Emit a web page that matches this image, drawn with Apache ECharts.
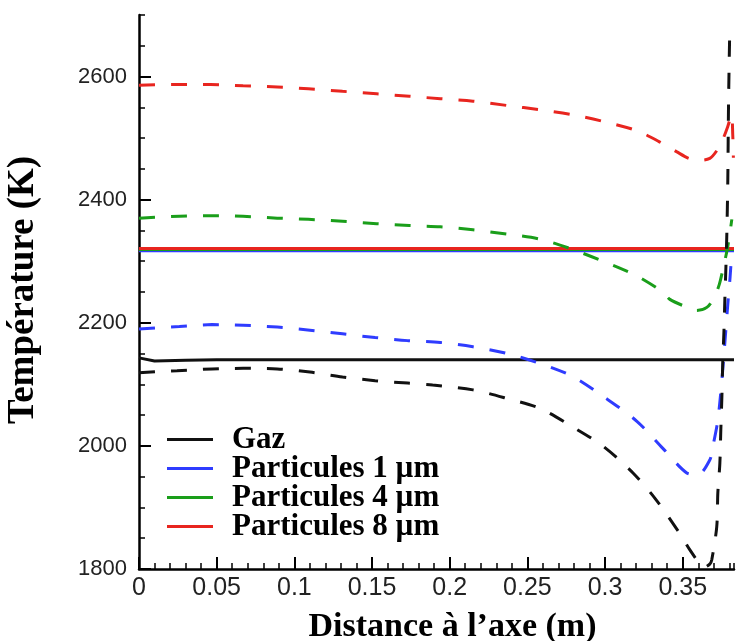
<!DOCTYPE html>
<html>
<head>
<meta charset="utf-8">
<script src="https://cdn.jsdelivr.net/npm/echarts@6.0.0/dist/echarts.min.js"></script>
<style>
html,body{margin:0;padding:0;background:#fff;}
#c{width:742px;height:641px;}
</style>
</head>
<body>
<div id="c"></div>
<script>
// ---- Data (Distance à l'axe en m, Température en K) ----
const legendNames = ['Gaz', 'Particules 1 µm', 'Particules 4 µm', 'Particules 8 µm'];
const xTickValues = [0, 0.05, 0.1, 0.15, 0.2, 0.25, 0.3, 0.35];
const yTickValues = [1800, 2000, 2200, 2400, 2600];

// solid lines
const gazSolidX = [0, 0.01, 0.03, 0.05, 0.1, 0.15, 0.2, 0.25, 0.3, 0.35, 0.383];
const gazSolidT = [2143, 2138, 2139, 2140, 2140, 2140, 2140, 2140, 2140, 2140, 2140];
const p1SolidX = [0, 0.1, 0.2, 0.3, 0.383];
const p1SolidT = [2317, 2317, 2317, 2317, 2317];
const p4SolidX = [0, 0.1, 0.2, 0.3, 0.383];
const p4SolidT = [2319, 2319, 2319, 2319, 2319];
const p8SolidX = [0, 0.1, 0.2, 0.3, 0.383];
const p8SolidT = [2320.5, 2320.5, 2320.5, 2320.5, 2320.5];

// dashed lines
const gazDashX = [0, 0.0245, 0.047, 0.067, 0.089, 0.110, 0.131, 0.152, 0.173, 0.189, 0.215, 0.237, 0.258, 0.279, 0.299, 0.318, 0.333, 0.348, 0.3546, 0.36, 0.364, 0.3674, 0.3687, 0.3719, 0.3726, 0.3739, 0.3745, 0.3752, 0.3758, 0.3765, 0.3771, 0.3778, 0.3784, 0.379, 0.3795, 0.3803];
const gazDashT = [2119, 2122, 2125, 2126, 2125, 2120, 2112, 2106, 2102, 2099, 2091, 2077, 2061, 2031, 1999, 1956, 1912, 1858, 1831, 1812, 1803, 1808, 1815, 1869, 1924, 1972, 2025, 2080, 2140, 2184, 2237, 2291, 2346, 2430, 2560, 2680];

const p1DashX = [0, 0.026, 0.047, 0.067, 0.089, 0.110, 0.131, 0.152, 0.173, 0.194, 0.215, 0.237, 0.258, 0.279, 0.299, 0.3205, 0.3372, 0.3526, 0.3597, 0.3674, 0.3694, 0.3726, 0.3752, 0.3771, 0.379, 0.3805, 0.3816];
const p1DashT = [2190, 2194, 2197, 2196, 2193, 2188, 2182, 2176, 2171, 2168, 2161, 2150, 2134, 2113, 2080, 2040, 1996, 1956, 1953, 1977, 1999, 2042, 2107, 2167, 2230, 2275, 2316];

const p4DashX = [0, 0.026, 0.047, 0.067, 0.089, 0.109, 0.131, 0.153, 0.174, 0.194, 0.215, 0.237, 0.258, 0.277, 0.2986, 0.3205, 0.337, 0.3417, 0.352, 0.359, 0.3655, 0.370, 0.3735, 0.3758, 0.379, 0.3816];
const p4DashT = [2370, 2373, 2374, 2373, 2370, 2368, 2365, 2361, 2358, 2356, 2351, 2344, 2336, 2321, 2300, 2276, 2250, 2238, 2226, 2220, 2225, 2240, 2262, 2286, 2324, 2368];

const p8DashX = [0, 0.026, 0.046, 0.067, 0.089, 0.109, 0.131, 0.153, 0.174, 0.194, 0.215, 0.237, 0.258, 0.279, 0.299, 0.3205, 0.335, 0.346, 0.354, 0.361, 0.3674, 0.372, 0.3758, 0.379, 0.3814, 0.3822, 0.3826];
const p8DashT = [2586, 2587, 2587, 2585, 2583, 2580, 2576, 2572, 2568, 2564, 2560, 2553, 2546, 2538, 2527, 2512, 2494, 2478, 2467, 2464, 2467, 2480, 2498, 2519, 2538, 2505, 2468];

const colors = { gaz: '#111111', p1: '#2f3cff', p4: '#1a9e1a', p8: '#e8251f' };

function pts(xs, ys) { return xs.map((x, i) => [x, ys[i]]); }

const chart = echarts.init(document.getElementById('c'), null, { renderer: 'canvas' });

const sansFont = '"Liberation Sans", Arial, Helvetica, sans-serif';
const serifFont = '"Liberation Serif", "Times New Roman", serif';

function solid(name, xs, ys, color) {
  return { name: name, type: 'line', data: pts(xs, ys), showSymbol: false, symbol: 'none',
    color: color, lineStyle: { color: color, width: 3, type: 'solid' }, smooth: false, z: 2 };
}
function dashed(name, xs, ys, color) {
  return { name: name, type: 'line', data: pts(xs, ys), showSymbol: false, symbol: 'none',
    color: color, lineStyle: { color: color, width: 3, type: [16, 16] }, smooth: 0.3, z: 3 };
}

const option = {
  animation: false,
  backgroundColor: '#ffffff',
  grid: { left: 139, right: 8, top: 15, bottom: 72, containLabel: false, outerBoundsMode: 'none' },
  legend: {
    data: legendNames,
    orient: 'vertical',
    left: 162,
    top: 419,
    icon: 'rect',
    itemWidth: 46,
    itemHeight: 3,
    itemGap: -2,
    selectedMode: false,
    textStyle: { fontFamily: serifFont, fontWeight: 'bold', fontSize: 31, color: '#000', lineHeight: 28, padding: [0, 0, 0, 14] }
  },
  xAxis: [{
    type: 'value', min: 0, max: 0.383, interval: 0.05,
    position: 'bottom',
    name: 'Distance à l\u2019axe (m)', nameLocation: 'middle', nameGap: 41,
    nameTextStyle: { fontFamily: serifFont, fontWeight: 'bold', fontSize: 34, color: '#000', padding: [0, 0, 0, 32] },
    axisLine: { show: true, onZero: false, lineStyle: { color: '#000', width: 2.5 } },
    axisTick: { show: true, inside: true, length: 12, lineStyle: { color: '#000', width: 2 }, customValues: xTickValues },
    axisLabel: { show: true, margin: 7, fontFamily: sansFont, fontSize: 25, color: '#222', customValues: xTickValues,
      formatter: v => String(+v.toFixed(2)) },
    splitLine: { show: false }
  }, {
    type: 'value', min: 0, max: 0.383, interval: 0.01,
    position: 'bottom',
    axisLine: { show: false },
    axisTick: { show: true, inside: true, length: 6, lineStyle: { color: '#000', width: 1.5 } },
    axisLabel: { show: false },
    splitLine: { show: false }
  }],
  yAxis: [{
    type: 'value', min: 1800, max: 2700, interval: 100,
    position: 'left',
    name: 'Température (K)', nameLocation: 'middle', nameGap: 97,
    nameTextStyle: { fontFamily: serifFont, fontWeight: 'bold', fontSize: 37, color: '#000', padding: [0, 0, 0, 4] },
    axisLine: { show: true, onZero: false, lineStyle: { color: '#000', width: 2.5 } },
    axisTick: { show: true, inside: true, length: 12, lineStyle: { color: '#000', width: 2 }, customValues: yTickValues },
    axisLabel: { show: true, margin: 12, fontFamily: sansFont, fontSize: 22, color: '#222', customValues: yTickValues,
      formatter: v => String(v) },
    splitLine: { show: false }
  }, {
    type: 'value', min: 1800, max: 2700, interval: 50,
    position: 'left',
    axisLine: { show: false },
    axisTick: { show: true, inside: true, length: 6, lineStyle: { color: '#000', width: 1.5 } },
    axisLabel: { show: false },
    splitLine: { show: false }
  }],
  series: [
    solid('Particules 1 µm', p1SolidX, p1SolidT, colors.p1),
    solid('Particules 4 µm', p4SolidX, p4SolidT, colors.p4),
    solid('Particules 8 µm', p8SolidX, p8SolidT, colors.p8),
    solid('Gaz', gazSolidX, gazSolidT, colors.gaz),
    dashed('Particules 4 µm (tirets)', p4DashX, p4DashT, colors.p4),
    dashed('Particules 8 µm (tirets)', p8DashX, p8DashT, colors.p8),
    dashed('Particules 1 µm (tirets)', p1DashX, p1DashT, colors.p1),
    dashed('Gaz (tirets)', gazDashX, gazDashT, colors.gaz)
  ]
};
chart.setOption(option);
</script>
</body>
</html>
